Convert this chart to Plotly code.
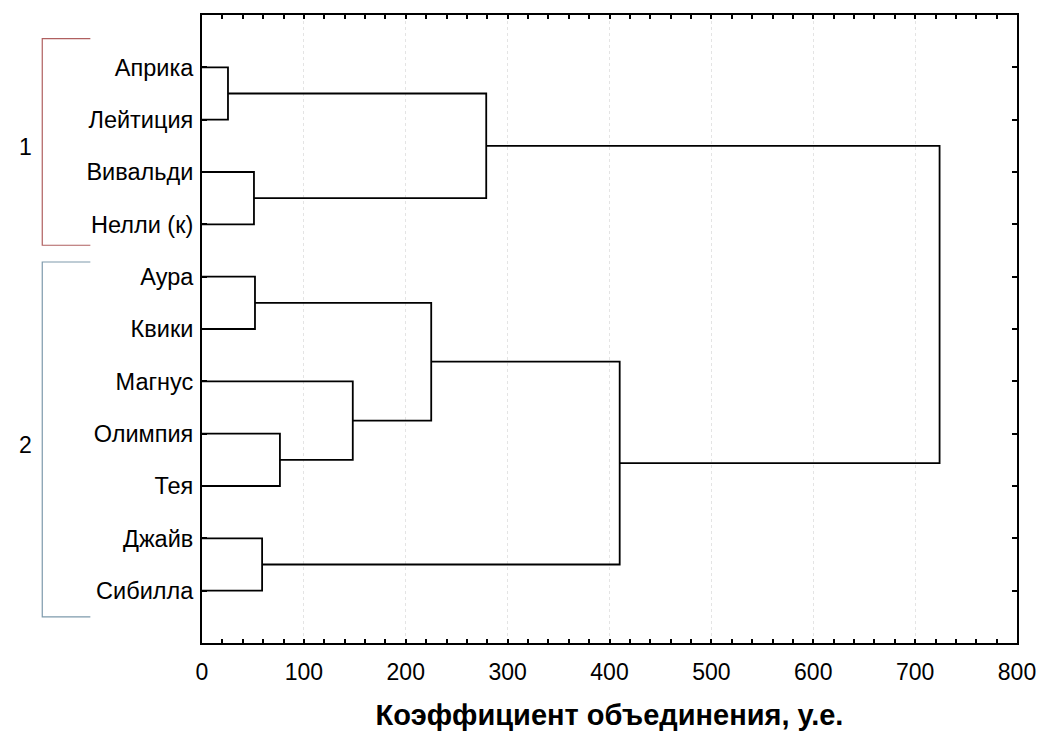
import plotly.graph_objects as go

leaves = ["Априка", "Лейтиция", "Вивальди", "Нелли (к)", "Аура", "Квики",
          "Магнус", "Олимпия", "Тея", "Джайв", "Сибилла"]
# merges: (node a, node b, linkage distance); leaves are 0..10, new nodes 11+
merge_a = [0, 2, 11, 4, 7, 6, 14, 9, 17, 13]
merge_b = [1, 3, 12, 5, 8, 15, 16, 10, 18, 19]
heights = [25.5, 51, 279, 52, 76.5, 148, 225, 59, 410, 724]

group_labels = ["1", "2"]
group_spans = [(0.45, 4.4), (4.72, 11.5)]
group_colors = ["#b06060", "#7e9aac"]

pos = {i: i + 1 for i in range(len(leaves))}
hgt = {i: 0.0 for i in range(len(leaves))}
xs, ys = [], []
for k, (a, b, h) in enumerate(zip(merge_a, merge_b, heights)):
    node = len(leaves) + k
    xs += [hgt[a], h, h, hgt[b], None]
    ys += [pos[a], pos[a], pos[b], pos[b], None]
    pos[node] = (pos[a] + pos[b]) / 2
    hgt[node] = h

fig = go.Figure()
fig.add_trace(go.Scatter(x=xs, y=ys, mode="lines",
                         line=dict(color="black", width=1.8),
                         hoverinfo="skip", showlegend=False))

font = "Liberation Sans, Arial, sans-serif"
for lab, (y0, y1), col in zip(group_labels, group_spans, group_colors):
    fig.add_shape(type="path", xref="paper", yref="y",
                  path=f"M -0.137 {y0} L -0.196 {y0} L -0.196 {y1} L -0.137 {y1}",
                  line=dict(color=col, width=1.2))
    fig.add_annotation(x=-0.227, y=(y0 + y1) / 2 + 0.1, xref="paper", yref="y",
                       text=lab, showarrow=False,
                       font=dict(size=23, color="black", family=font))

fig.update_layout(
    width=1038, height=731,
    margin=dict(l=202, r=21, t=15, b=88, autoexpand=False),
    plot_bgcolor="white", paper_bgcolor="white",
    font=dict(family=font, size=22, color="black"),
    xaxis=dict(range=[0, 800], dtick=100, tick0=0, automargin=False,
               showline=True, linecolor="black", linewidth=2, mirror="ticks",
               ticks="inside", ticklen=4, tickwidth=2, tickcolor="black",
               tickfont=dict(size=23), ticklabelstandoff=7,
               minor=dict(dtick=20, ticks="inside", ticklen=4, tickwidth=1.5,
                          tickcolor="black", showgrid=False),
               showgrid=True, gridcolor="#e4e4e4", griddash="dot", gridwidth=1,
               zeroline=False,
               title=dict(text="<b>Коэффициент объединения, у.е.</b>",
                          font=dict(size=29, family=font), standoff=30)),
    yaxis=dict(range=[12, 0], tickvals=list(range(1, len(leaves) + 1)),
               ticktext=leaves, tickfont=dict(size=23.5), automargin=False,
               ticklabelstandoff=2,
               showline=True, linecolor="black", linewidth=2, mirror="ticks",
               ticks="inside", ticklen=5, tickwidth=2, tickcolor="black",
               showgrid=False, zeroline=False),
)

fig.write_html("out.html", config={"displayModeBar": False},
               post_script="document.body.style.margin='0px';document.body.style.padding='0px';")
